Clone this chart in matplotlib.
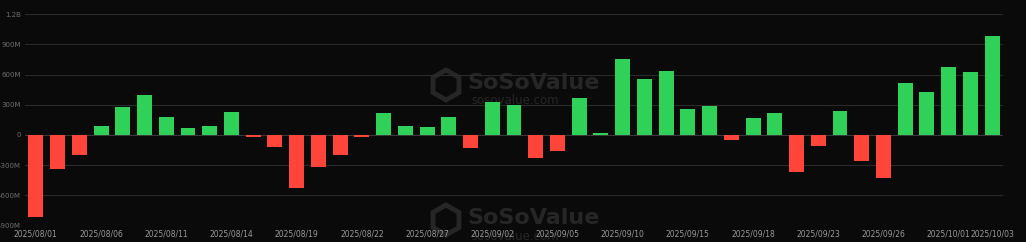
import matplotlib
matplotlib.use("Agg")
import matplotlib.pyplot as plt
from matplotlib.patches import RegularPolygon

dates = ["2025/08/01","2025/08/04","2025/08/05","2025/08/06","2025/08/07","2025/08/08",
         "2025/08/11","2025/08/12","2025/08/13","2025/08/14","2025/08/15",
         "2025/08/18","2025/08/19","2025/08/20","2025/08/21","2025/08/22",
         "2025/08/25","2025/08/26","2025/08/27","2025/08/28","2025/08/29",
         "2025/09/02","2025/09/03","2025/09/04","2025/09/05",
         "2025/09/08","2025/09/09","2025/09/10","2025/09/11","2025/09/12",
         "2025/09/15","2025/09/16","2025/09/17","2025/09/18","2025/09/19",
         "2025/09/22","2025/09/23","2025/09/24","2025/09/25","2025/09/26",
         "2025/09/29","2025/09/30","2025/10/01","2025/10/02","2025/10/03"]

# net flows in millions USD
values = [-819, -335, -199, 90, 282, 401, 176, 67, 86, 229, -17,
          -122, -530, -315, -197, -23, 216, 87, 77, 176, -129,
          332, 299, -232, -162, 365, 17, 757, 554, 640,
          259, 289, -53, 163, 219, -368, -106, 239, -262, -425,
          521, 428, 677, 627, 988]

y_ticks = [-900, -600, -300, 0, 300, 600, 900, 1200]
y_labels = ["-900M", "-600M", "-300M", "0", "300M", "600M", "900M", "1.2B"]

label_idx = [0, 3, 6, 9, 12, 15, 18, 21, 24, 27, 30, 33, 36, 39, 42, 44]

GREEN = "#2fd159"
RED = "#ff453a"
BG = "#0a0a0a"

fig = plt.figure(figsize=(10.26, 2.42), dpi=100, facecolor=BG)
W, H = 1026, 242
x0, x1 = 25, 1003
yt, yb = 14.3, 225.3
ax = fig.add_axes([x0 / W, 1 - yb / H, (x1 - x0) / W, (yb - yt) / H])
ax.set_facecolor(BG)

xs = list(range(len(values)))
colors = [GREEN if v >= 0 else RED for v in values]
ax.bar(xs, values, width=0.69, color=colors, zorder=3)

ax.set_xlim(-0.5, len(values) - 0.5)
ax.set_ylim(-900, 1200)
for t in y_ticks:
    ax.axhline(t, color="#2a2a2a" if t != 0 else "#3a3a3a", lw=0.8, zorder=1)

ax.set_yticks(y_ticks)
ax.set_yticklabels(y_labels)
ax.set_xticks(label_idx)
ax.set_xticklabels([dates[i] for i in label_idx])
ax.tick_params(axis="y", length=0, pad=3, labelsize=5.0, labelcolor="#6e6e6e")
ax.tick_params(axis="x", length=0, pad=3, labelsize=5.5, labelcolor="#9a9a9a")
for s in ax.spines.values():
    s.set_visible(False)

# watermarks
wm = "#262626"
for cy in (83, 218):
    fig.text(534 / W, 1 - cy / H, "SoSoValue", color=wm, fontsize=16, fontweight="bold",
             ha="center", va="center", zorder=0)
    fig.text(515 / W, 1 - (cy + 18) / H, "sosovalue.com", color=wm, fontsize=8.5,
             ha="center", va="center", zorder=0)
    hexp = RegularPolygon((446 / 100, (H - cy - 2) / 100), numVertices=6, radius=0.15,
                          orientation=0, transform=fig.dpi_scale_trans,
                          facecolor="none", edgecolor=wm, lw=3.5, zorder=0)
    fig.patches.append(hexp)

ax.set_zorder(1)
ax.patch.set_alpha(0)

fig.savefig("out.png", dpi=100, facecolor=BG)
